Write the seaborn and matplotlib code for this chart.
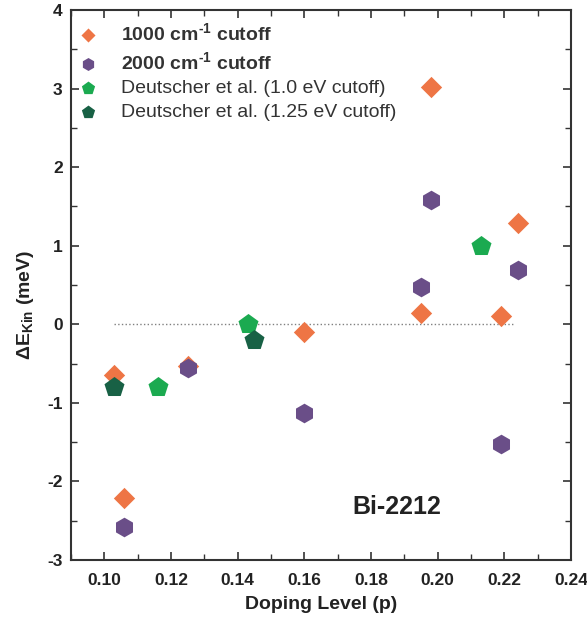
import seaborn as sns
import matplotlib.pyplot as plt
import pandas as pd
from matplotlib.ticker import MultipleLocator

sns.set_theme(style="ticks")
plt.rcParams['font.family'] = ['Liberation Sans', 'DejaVu Sans']
plt.rcParams['mathtext.fontset'] = 'custom'
plt.rcParams['mathtext.rm'] = 'Liberation Sans:bold'
plt.rcParams['mathtext.it'] = 'Liberation Sans:bold'
plt.rcParams['mathtext.bf'] = 'Liberation Sans:bold'

# 1000 cm^-1 cutoff
p_1000 = [0.103, 0.106, 0.125, 0.160, 0.195, 0.198, 0.219, 0.224]
e_1000 = [-0.65, -2.21, -0.53, -0.10, 0.15, 3.02, 0.11, 1.29]
# 2000 cm^-1 cutoff
p_2000 = [0.106, 0.125, 0.160, 0.195, 0.198, 0.219, 0.224]
e_2000 = [-2.58, -0.55, -1.13, 0.48, 1.58, -1.52, 0.69]
# Deutscher et al. 1.0 eV
p_d10 = [0.116, 0.143, 0.213]
e_d10 = [-0.80, 0.00, 1.00]
# Deutscher et al. 1.25 eV
p_d125 = [0.103, 0.145]
e_d125 = [-0.80, -0.20]

series = [
    (r"1000 cm$^{\text{-1}}$ cutoff", p_1000, e_1000, "D", "#EE7545", 118),
    (r"2000 cm$^{\text{-1}}$ cutoff", p_2000, e_2000, "h", "#6A4E88", 200),
    ("Deutscher et al. (1.0 eV cutoff)", p_d10, e_d10, "p", "#1BAA50", 230),
    ("Deutscher et al. (1.25 eV cutoff)", p_d125, e_d125, "p", "#186145", 230),
]

fig = plt.figure(figsize=(5.87, 6.23), dpi=100)
ax = fig.add_axes([0.121, 0.101, 0.852, 0.883])

ax.plot([0.103, 0.223], [0, 0], linestyle=':', color='gray', linewidth=1, zorder=1)

for label, px, py, marker, color, size in series:
    df = pd.DataFrame({'p': px, 'dE': py})
    sns.scatterplot(data=df, x='p', y='dE', ax=ax, marker=marker, color=color,
                    s=size, linewidth=0, label=label, zorder=3)

ax.set_xlim(0.09, 0.24)
ax.set_ylim(-3, 4)
ax.xaxis.set_major_locator(MultipleLocator(0.02))
ax.xaxis.set_minor_locator(MultipleLocator(0.01))
ax.yaxis.set_major_locator(MultipleLocator(1))
ax.yaxis.set_minor_locator(MultipleLocator(0.5))
ax.xaxis.set_major_formatter(plt.FuncFormatter(lambda v, _: f"{v:.2f}"))
ax.yaxis.set_major_formatter(plt.FuncFormatter(lambda v, _: f"{v:.0f}"))
ax.tick_params(which='both', direction='in', top=True, right=True, color='#333333')
ax.tick_params(which='major', length=6, width=1.2)
ax.tick_params(which='minor', length=4, width=1.0)
ax.tick_params(axis='both', labelsize=12.5, labelcolor='#222222', pad=6)
ax.tick_params(axis='x', pad=9)
for t in ax.get_xticklabels() + ax.get_yticklabels():
    t.set_fontweight('bold')
for sp in ax.spines.values():
    sp.set_color('#333333')
    sp.set_linewidth(1.5)

ax.set_xlabel('Doping Level (p)', fontsize=14, fontweight='bold', color='#222222',
              labelpad=6)
ax.set_ylabel(r'$\Delta$E$_{\mathrm{Kin}}$ (meV)', fontsize=14, fontweight='bold', color='#222222')
ax.yaxis.set_label_coords(-0.07, 0.464)

ax.text(0.1878, -2.33, 'Bi-2212', fontsize=18, fontweight='bold', color='#222222',
        ha='center', va='center')

leg = ax.legend(loc='upper left', bbox_to_anchor=(0, 0.993), frameon=False, fontsize=14,
                handletextpad=1.25, labelspacing=0.34, borderaxespad=0, borderpad=0.45,
                markerscale=0.66, handlelength=0.85)
for i, t in enumerate(leg.get_texts()):
    t.set_color('#333333')
    if i < 2:
        t.set_fontweight('bold')

fig.savefig('out.png', dpi=100)
